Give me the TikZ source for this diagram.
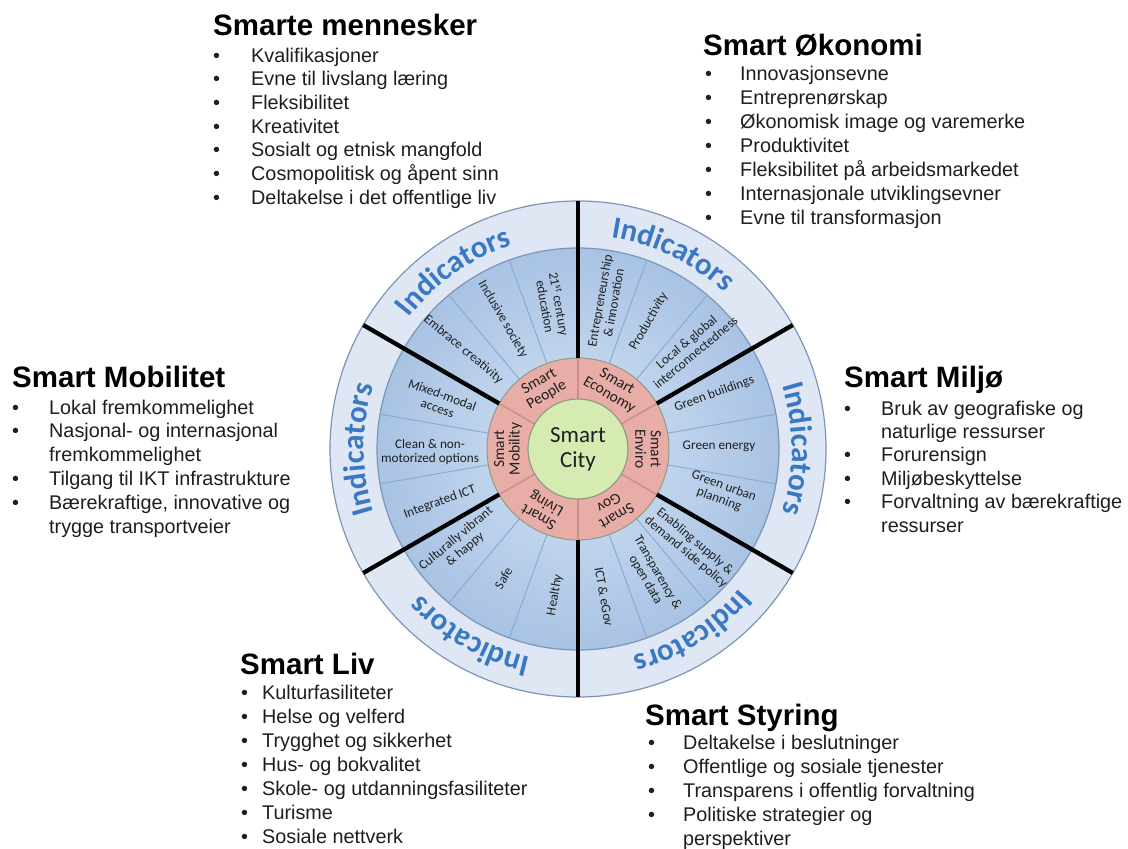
\documentclass[tikz,border=0pt]{standalone}
\usepackage{fontspec}
\setmainfont{Liberation Sans}
\newfontfamily\carlito{Carlito}
\usetikzlibrary{decorations.text,calc}
\definecolor{bandfill}{HTML}{DEE7F3}
\definecolor{bandline}{HTML}{7D95B8}
\definecolor{secin}{HTML}{D2E1F3}
\definecolor{secout}{HTML}{A9C3E4}
\definecolor{subline}{HTML}{86A8D3}
\definecolor{pinkfill}{HTML}{E9ADA8}
\definecolor{pinkline}{HTML}{C98F8A}
\definecolor{greenfill}{HTML}{D6EBB2}
\definecolor{greenline}{HTML}{8E9C84}
\definecolor{indblue}{HTML}{3A78C4}
\definecolor{lbltext}{HTML}{1F1F1F}
\definecolor{bodytext}{HTML}{1E1E1E}
\begin{document}
\begin{tikzpicture}[x=1pt,y=1pt,
  heading/.style={anchor=base west, inner sep=0, font=\fontsize{29.5}{30}\selectfont\bfseries},
  bul/.style={anchor=base west, inner sep=0, font=\fontsize{19.8}{20}\selectfont, text=bodytext},
  btxt/.style={anchor=base west, inner sep=0, font=\fontsize{19.8}{20}\selectfont, text=bodytext},
  seclbl/.style={font=\carlito\fontsize{13.2}{14}\selectfont, align=center, text=lbltext, inner sep=0},
  pinklbl/.style={font=\carlito\fontsize{15.5}{15.5}\selectfont, align=center, text=lbltext, inner sep=0},
  indtext/.style={decorate, decoration={text along path, text align=center, text color=indblue,
      text={|\carlito\bfseries\fontsize{31}{31}\selectfont|Indicators}}}
]
\useasboundingbox (0,0) rectangle (1128,-849);
\fill[white] (0,0) rectangle (1128,-849);
\coordinate (c) at (578,-449);

% rings
\filldraw[fill=bandfill, draw=bandline, line width=1.2] (c) circle[radius=248];
\shade[inner color=secin, outer color=secout] (c) circle[radius=201];
\draw[bandline, line width=1.2] (c) circle[radius=201];
\foreach \a in {110,130,50,70,10,-10,-50,-70,-110,-130,170,190}
  \draw[subline, line width=0.9] ($(c)+(\a:91)$) -- ($(c)+(\a:201)$);
\filldraw[fill=pinkfill, draw=greenline, line width=1] (c) circle[radius=91];
\foreach \a in {90,30,-30,-90,-150,150}
  \draw[pinkline, line width=1.5] ($(c)+(\a:50)$) -- ($(c)+(\a:91)$);
\filldraw[fill=greenfill, draw=greenline, line width=1.2] (c) circle[radius=50];
\foreach \a in {90,30,-30,-90,-150,150}
  \draw[black, line width=4.3] ($(c)+(\a:91)$) -- ($(c)+(\a:248)$);

% Indicators
\foreach \m in {125,64,0,-58,-120,180}
  \path[indtext] ($(c)+(\m+30:214)$) arc[start angle=\m+30, end angle=\m-30, radius=214];

% centre
\node[font=\carlito\fontsize{23}{25}\selectfont, align=center, text=lbltext, inner sep=0] (city) at (c) {Smart\\City};

% pink ring labels
\node[pinklbl, rotate=30] (pPeople) at ($(c)+(120:70)$) {Smart\\People};
\node[pinklbl, rotate=-30] (pEconomy) at ($(c)+(60:70)$) {Smart\\Economy};
\node[pinklbl, rotate=-90] (pEnviro) at ($(c)+(0:70)$) {Smart\\Enviro};
\node[pinklbl, rotate=-150] (pGov) at ($(c)+(-60:70)$) {Smart\\Gov};
\node[pinklbl, rotate=150] (pLiving) at ($(c)+(-120:70)$) {Smart\\Living};
\node[pinklbl, rotate=90] (pMobility) at ($(c)+(180:70)$) {Smart\\Mobility};

% sector labels
\node[seclbl, rotate=-80] (s1) at ($(c)+(100:146)$) {21\textsuperscript{st} century\\education};
\node[seclbl, rotate=-60] (s2) at ($(c)+(120:150)$) {Inclusive society};
\node[seclbl, rotate=-40] (s3) at ($(c)+(139:152)$) {Embrace creativity};
\node[seclbl, rotate=80] (s4) at ($(c)+(79:150)$) {Entrepreneurship\\\& innovation};
\node[seclbl, rotate=60] (s5) at ($(c)+(61:146)$) {Productivity};
\node[seclbl, rotate=40] (s6) at ($(c)+(42:152)$) {Local \& global\\interconnectedness};
\node[seclbl, rotate=20] (s7) at ($(c)+(22:147)$) {Green buildings};
\node[seclbl] (s8) at ($(c)+(1:141)$) {Green energy};
\node[seclbl, rotate=-20] (s9) at ($(c)+(-17:150)$) {Green urban\\planning};
\node[seclbl, rotate=-40] (s10) at ($(c)+(-41:149)$) {Enabling supply \&\\demand side policy};
\node[seclbl, rotate=-60] (s11) at ($(c)+(-60:147)$) {Transparency \&\\open data};
\node[seclbl, rotate=-80] (s12) at ($(c)+(-80:150)$) {ICT \& eGov};
\node[seclbl, rotate=80] (s13) at ($(c)+(-99:148)$) {Healthy};
\node[seclbl, rotate=60] (s14) at ($(c)+(-120:149)$) {Safe};
\node[seclbl, rotate=40] (s15) at ($(c)+(-141:151)$) {Culturally vibrant\\\& happy};
\node[seclbl, rotate=-20] (s16) at ($(c)+(161:146)$) {Mixed-modal\\access};
\node[seclbl] (s17) at ($(c)+(181:148)$) {Clean \& non-\\motorized options};
\node[seclbl, rotate=20] (s18) at ($(c)+(201:148)$) {Integrated ICT};

% text blocks
\node[heading] (hPeople) at (213,-35) {Smarte mennesker};
\foreach \b/\t [count=\i] in {1/Kvalifikasjoner, 1/Evne til livslang læring, 1/Fleksibilitet, 1/Kreativitet, 1/Sosialt og etnisk mangfold, 1/Cosmopolitisk og åpent sinn, 1/Deltakelse i det offentlige liv}{
  \node[btxt] (tPeople\i) at (251,{-62-23.7*(\i-1)}) {\t};
  \ifnum\b=1 \node[bul] (bPeople\i) at (213,{-62-23.7*(\i-1)}) {•};\fi
}

\node[heading] (hEconomy) at (703,-55) {Smart Økonomi};
\foreach \b/\t [count=\i] in {1/Innovasjonsevne, 1/Entreprenørskap, 1/Økonomisk image og varemerke, 1/Produktivitet, 1/Fleksibilitet på arbeidsmarkedet, 1/Internasjonale utviklingsevner, 1/Evne til transformasjon}{
  \node[btxt] (tEconomy\i) at (740,{-80-24*(\i-1)}) {\t};
  \ifnum\b=1 \node[bul] (bEconomy\i) at (705,{-80-24*(\i-1)}) {•};\fi
}

\node[heading] (hMobility) at (12,-387) {Smart Mobilitet};
\foreach \b/\t [count=\i] in {1/Lokal fremkommelighet, 1/Nasjonal- og internasjonal, 0/fremkommelighet, 1/Tilgang til IKT infrastrukture, 1/{Bærekraftige, innovative og}, 0/trygge transportveier}{
  \node[btxt] (tMobility\i) at (49,{-414-23.8*(\i-1)}) {\t};
  \ifnum\b=1 \node[bul] (bMobility\i) at (12,{-414-23.8*(\i-1)}) {•};\fi
}

\node[heading] (hEnviro) at (844,-387) {Smart Miljø};
\foreach \b/\t [count=\i] in {1/Bruk av geografiske og, 0/naturlige ressurser, 1/Forurensign, 1/Miljøbeskyttelse, 1/Forvaltning av bærekraftige, 0/ressurser}{
  \node[btxt] (tEnviro\i) at (881,{-415-23.4*(\i-1)}) {\t};
  \ifnum\b=1 \node[bul] (bEnviro\i) at (844,{-415-23.4*(\i-1)}) {•};\fi
}

\node[heading] (hLiving) at (240,-674) {Smart Liv};
\foreach \b/\t [count=\i] in {1/Kulturfasiliteter, 1/Helse og velferd, 1/Trygghet og sikkerhet, 1/Hus- og bokvalitet, 1/Skole- og utdanningsfasiliteter, 1/Turisme, 1/Sosiale nettverk}{
  \node[btxt] (tLiving\i) at (262,{-699-24*(\i-1)}) {\t};
  \ifnum\b=1 \node[bul] (bLiving\i) at (241,{-699-24*(\i-1)}) {•};\fi
}

\node[heading] (hGov) at (645,-725) {Smart Styring};
\foreach \b/\t [count=\i] in {1/Deltakelse i beslutninger, 1/Offentlige og sosiale tjenester, 1/Transparens i offentlig forvaltning, 1/Politiske strategier og, 0/perspektiver}{
  \node[btxt] (tGov\i) at (683,{-749-24*(\i-1)}) {\t};
  \ifnum\b=1 \node[bul] (bGov\i) at (648,{-749-24*(\i-1)}) {•};\fi
}
\end{tikzpicture}
\end{document}
